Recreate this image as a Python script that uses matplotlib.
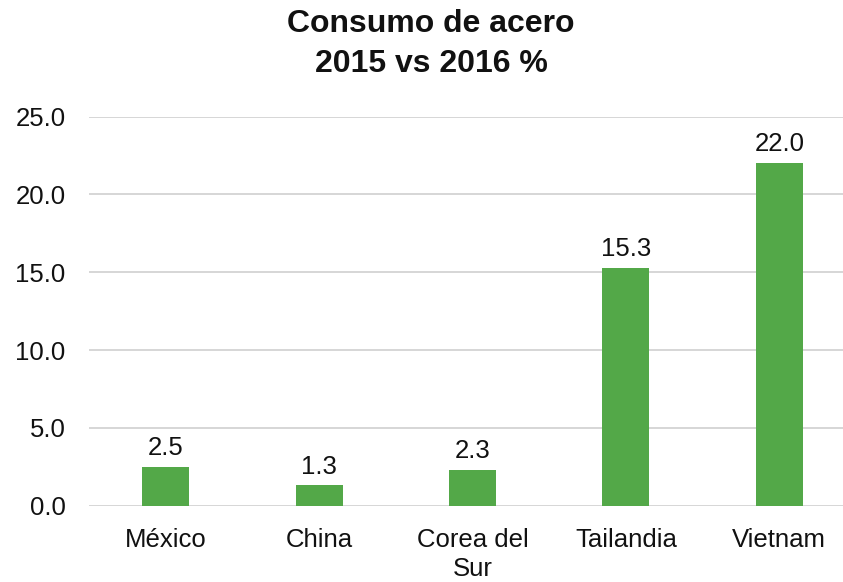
import matplotlib
matplotlib.use('Agg')
import matplotlib.pyplot as plt

# data
paises = ['México', 'China', 'Corea del\nSur', 'Tailandia', 'Vietnam']
consumo = [2.5, 1.3, 2.3, 15.3, 22.0]
yticks = [0, 5, 10, 15, 20, 25]

plt.rcParams.update({
    'font.family': ['Liberation Sans', 'DejaVu Sans'],
    'font.size': 18.5,
})

fig = plt.figure(figsize=(8.43, 5.82), dpi=100)
ax = fig.add_axes([89 / 843, 0.1311, 767 / 843, 0.6684])

x = list(range(len(paises)))
bars = ax.bar(x, consumo, width=0.307, color='#53a848', zorder=3)

for xi, v in zip(x, consumo):
    ax.annotate(f'{v:.1f}', (xi, v), xytext=(0, 5), textcoords='offset points',
                ha='center', va='bottom', fontsize=18.5, color='#111111')

ax.set_xlim(-0.5, 4.5)
ax.set_ylim(0, 25)
ax.set_yticks(yticks)
ax.set_yticklabels([f'{t:.1f}' for t in yticks])
ax.set_xticks(x)
ax.set_xticklabels(paises, linespacing=1.25, va='top')

ax.grid(axis='y', color='#d6d6d6', linewidth=1.4, zorder=0)
ax.tick_params(axis='both', length=0, colors='#111111')
ax.tick_params(axis='y', pad=17)
ax.tick_params(axis='x', pad=16)
for s in ax.spines.values():
    s.set_visible(False)

fig.text(431 / 843, 1 - 44 / 582, 'Consumo de acero\n2015 vs 2016 %', ha='center', va='center',
         fontsize=23, fontweight='bold', linespacing=1.45, color='#111111')

fig.savefig('out.png', dpi=100)
